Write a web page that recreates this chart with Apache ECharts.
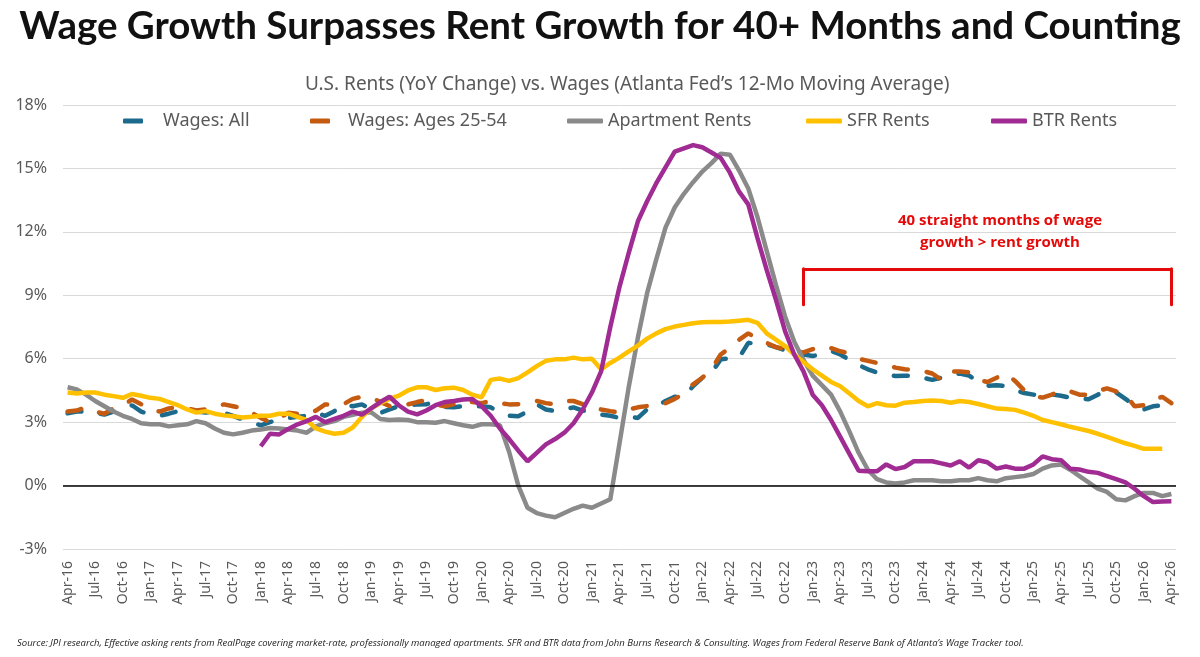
<!DOCTYPE html>
<html>
<head>
<meta charset="utf-8">
<script src="https://cdn.jsdelivr.net/npm/echarts@6/dist/echarts.min.js"></script>
<style>
html,body{margin:0;padding:0;background:#fff;}
#chart{width:1200px;height:657px;}
</style>
</head>
<body>
<div id="chart"></div>
<script>
// ---- categories (monthly, Apr-16 .. Apr-26) ----
const monthNames = ['Jan','Feb','Mar','Apr','May','Jun','Jul','Aug','Sep','Oct','Nov','Dec'];
const categories = [];
for (let k = 0; k < 121; k++) {
  const m = (3 + k) % 12;
  const y = 16 + Math.floor((3 + k) / 12);
  categories.push(monthNames[m] + '-' + y);
}

// ---- series values (% YoY) ----
const wagesAll = [
  3.42, 3.5, 3.5, 3.45, 3.36, 3.5, 3.6, 3.8, 3.5, 3.36,
  3.3, 3.4, 3.52, 3.55, 3.5, 3.45, 3.5, 3.44, 3.3, 3.13,
  3.0, 2.85, 3.0, 3.13, 3.2, 3.25, 3.3, 3.44, 3.3, 3.52,
  3.84, 3.75, 3.84, 3.6, 3.44, 3.6, 3.76, 3.8, 3.84, 3.85,
  3.92, 3.72, 3.7, 3.76, 3.76, 3.75, 3.7, 3.44, 3.3, 3.28,
  3.5, 3.84, 3.6, 3.52, 3.6, 3.7, 3.55, 3.5, 3.36, 3.3,
  3.2, 3.25, 3.2, 3.6, 3.75, 4.0, 4.2, 4.23, 4.7, 5.1,
  5.34, 5.97, 6.02, 6.05, 6.75, 6.7, 6.68, 6.55, 6.4, 6.3,
  6.2, 6.13, 6.2, 6.37, 6.2, 5.95, 5.7, 5.5, 5.35, 5.25,
  5.18, 5.2, 5.2, 5.1, 5.0, 5.1, 5.25, 5.3, 5.2, 4.92,
  4.72, 4.75, 4.7, 4.5, 4.38, 4.3, 4.31, 4.31, 4.25, 4.15,
  4.12, 4.08, 4.3, 4.5, 4.4, 4.1, 3.8, 3.6, 3.75, 3.8,
  3.6
];
const wages2554 = [
  3.5, 3.55, 3.7, 3.5, 3.4, 3.65, 3.8, 4.07, 3.85, 3.6,
  3.5, 3.65, 3.7, 3.65, 3.55, 3.6, 3.75, 3.84, 3.75, 3.65,
  3.45, 3.2, 3.0, 3.2, 3.44, 3.4, 3.36, 3.55, 3.84, 3.84,
  3.85, 4.1, 4.2, 4.17, 3.95, 3.76, 3.8, 3.84, 3.95, 4.05,
  3.84, 3.75, 3.85, 4.0, 3.95, 3.9, 4.0, 3.9, 3.84, 3.85,
  3.92, 4.0, 3.9, 3.85, 4.0, 4.0, 3.85, 3.7, 3.6, 3.52,
  3.45, 3.6, 3.7, 3.76, 3.8, 3.9, 4.1, 4.35, 4.79, 5.1,
  5.5, 6.2, 6.52, 6.9, 7.2, 6.95, 6.75, 6.55, 6.45, 6.35,
  6.3, 6.45, 6.6, 6.5, 6.35, 6.25, 6.0, 5.9, 5.8, 5.7,
  5.58, 5.5, 5.48, 5.42, 5.3, 5.0, 5.4, 5.4, 5.35, 5.0,
  4.9, 5.1, 5.3, 4.95, 4.5, 4.23, 4.16, 4.3, 4.5, 4.45,
  4.3, 4.3, 4.47, 4.6, 4.45, 4.3, 3.75, 3.8, 4.05, 4.2,
  3.9
];
const apartmentRents = [
  4.65, 4.55, 4.3, 4.0, 3.75, 3.5, 3.3, 3.15, 2.95, 2.9,
  2.9, 2.8, 2.85, 2.9, 3.05, 2.95, 2.7, 2.5, 2.42, 2.5,
  2.6, 2.65, 2.72, 2.7, 2.65, 2.6, 2.5, 2.8, 2.95, 3.05,
  3.25, 3.35, 3.45, 3.47, 3.15, 3.1, 3.12, 3.1, 3.0, 3.0,
  2.97, 3.05, 2.95, 2.85, 2.78, 2.9, 2.9, 2.85, 1.6, 0.0,
  -1.05, -1.3, -1.42, -1.5, -1.3, -1.1, -0.95, -1.05, -0.85, -0.65,
  2.0, 4.65, 7.0, 9.1, 10.7, 12.2, 13.15, 13.8, 14.35, 14.85,
  15.25, 15.7, 15.65, 14.9, 14.05, 12.7, 11.1, 9.5, 8.0, 6.8,
  5.95, 5.2, 4.75, 4.3, 3.5, 2.55, 1.55, 0.75, 0.3, 0.15,
  0.1, 0.15, 0.25, 0.25, 0.25, 0.2, 0.2, 0.25, 0.25, 0.35,
  0.25, 0.2, 0.35, 0.4, 0.45, 0.55, 0.8, 0.95, 1.0, 0.75,
  0.45, 0.15, -0.15, -0.3, -0.65, -0.7, -0.5, -0.35, -0.35, -0.5,
  -0.4
];
const sfrRents = [
  4.4, 4.35, 4.4, 4.4, 4.3, 4.23, 4.15, 4.33, 4.25, 4.15,
  4.1, 3.95, 3.8, 3.6, 3.45, 3.52, 3.4, 3.32, 3.28, 3.22,
  3.25, 3.3, 3.3, 3.4, 3.4, 3.25, 3.1, 2.7, 2.55, 2.45,
  2.5, 2.75, 3.25, 3.65, 3.9, 4.1, 4.25, 4.5, 4.65, 4.65,
  4.52, 4.6, 4.63, 4.52, 4.3, 4.17, 5.0, 5.06, 4.95, 5.08,
  5.35, 5.65, 5.9, 5.97, 5.97, 6.05, 5.97, 6.0, 5.5, 5.8,
  6.05, 6.35, 6.62, 6.95, 7.2, 7.4, 7.52, 7.6, 7.68, 7.72,
  7.74, 7.74, 7.76, 7.8, 7.84, 7.7, 7.2, 6.9, 6.6, 6.2,
  5.85, 5.5, 5.2, 4.9, 4.7, 4.35, 4.0, 3.75, 3.9, 3.8,
  3.78, 3.92, 3.95, 4.0, 4.02, 4.0, 3.92, 4.0, 3.95, 3.86,
  3.75, 3.64, 3.62, 3.58, 3.45, 3.3, 3.1, 3.0, 2.9, 2.78,
  2.68, 2.58, 2.45, 2.3, 2.15, 2.0, 1.88, 1.74, 1.74, 1.74,
  null
];
const btrRents = [
  null, null, null, null, null, null, null, null, null, null,
  null, null, null, null, null, null, null, null, null, null,
  null, 1.86, 2.45, 2.42, 2.68, 2.9, 3.05, 3.25, 3.0, 3.15,
  3.3, 3.5, 3.35, 3.65, 3.95, 4.2, 3.8, 3.5, 3.37, 3.55,
  3.8, 3.95, 4.0, 4.07, 4.1, 3.75, 3.3, 2.7, 2.2, 1.65,
  1.15, 1.55, 1.95, 2.2, 2.5, 2.95, 3.6, 4.4, 5.4, 7.5,
  9.4, 11.0, 12.5, 13.45, 14.3, 15.05, 15.8, 15.95, 16.1, 16.0,
  15.75, 15.5, 14.8, 13.9, 13.3, 11.7, 10.2, 8.8, 7.3, 6.2,
  5.4, 4.3, 3.8, 3.1, 2.3, 1.5, 0.7, 0.68, 0.68, 1.0,
  0.78, 0.88, 1.15, 1.15, 1.15, 1.05, 0.95, 1.15, 0.85, 1.2,
  1.1, 0.8, 0.9, 0.8, 0.8, 1.0, 1.38, 1.25, 1.2, 0.8,
  0.76, 0.65, 0.6, 0.45, 0.3, 0.15, -0.15, -0.5, -0.78, -0.75,
  -0.74
];

// ---- axis / annotation settings ----
const yTicks = { min: -3, max: 18, interval: 3 };
const bracket = { fromIndex: 80, toIndex: 120, low: 8.55, high: 10.25 };

const seriesNames = ['Wages: All', 'Wages: Ages 25-54', 'Apartment Rents', 'SFR Rents', 'BTR Rents'];
const colors = ['#1C6A8C', '#C55A11', '#8A8A8A', '#FFC000', '#A02B93'];

const FONT = "'Noto Sans', 'Open Sans', sans-serif";
const GREY_TEXT = '#595959';
const RED = '#E50A0A';

const chart = echarts.init(document.getElementById('chart'), null, { renderer: 'canvas' });

function legendFor(idx, left, iconW, padLeft) {
  return {
    data: [seriesNames[idx]],
    left: left,
    top: 112,
    padding: 0,
    icon: 'roundRect',
    itemWidth: iconW,
    itemHeight: 5,
    itemStyle: { color: colors[idx], borderWidth: 0, borderType: 'solid', opacity: 1 },
    lineStyle: { type: 'solid', width: 0 },
    textStyle: { fontFamily: FONT, fontSize: 18, color: GREY_TEXT, padding: [0, 0, 0, padLeft] },
    selectedMode: false
  };
}

const dashed = { width: 4.5, type: [14, 19], cap: 'round' };

const option = {
  animation: false,
  backgroundColor: '#ffffff',
  title: [
    {
      text: 'Wage Growth Surpasses Rent Growth for 40+ Months and Counting',
      left: 'center', top: 2,
      textStyle: { fontFamily: "'Lato', sans-serif", fontWeight: 'bold', fontSize: 38.5, color: '#111111' }
    },
    {
      text: 'U.S. Rents (YoY Change) vs. Wages (Atlanta Fed\u2019s 12-Mo Moving Average)',
      left: 300, top: 70,
      textStyle: { fontFamily: FONT, fontWeight: 'normal', fontSize: 19, color: GREY_TEXT }
    },
    {
      text: 'Source: JPI research, Effective asking rents from RealPage covering market-rate, professionally managed apartments. SFR and BTR data from John Burns Research & Consulting. Wages from Federal Reserve Bank of Atlanta\u2019s Wage Tracker tool.',
      left: 12, top: 633,
      textStyle: { fontFamily: "'Open Sans', sans-serif", fontStyle: 'italic', fontWeight: 'normal', fontSize: 9.5, color: '#222222' }
    }
  ],
  legend: [
    legendFor(0, 123, 20, 15),
    legendFor(1, 310, 20, 13),
    legendFor(2, 567, 36, 0),
    legendFor(3, 806, 36, 0),
    legendFor(4, 991, 36, 0)
  ],
  grid: { left: 63, right: 24, top: 105, bottom: 108, containLabel: false },
  xAxis: {
    type: 'category',
    data: categories,
    boundaryGap: true,
    axisLine: { show: false },
    axisTick: { show: false },
    splitLine: { show: false },
    axisLabel: {
      interval: 2, rotate: 90, fontSize: 14, color: GREY_TEXT, fontFamily: FONT, margin: 12
    }
  },
  yAxis: {
    type: 'value',
    min: yTicks.min, max: yTicks.max, interval: yTicks.interval,
    axisLine: { show: false },
    axisTick: { show: false },
    splitLine: { lineStyle: { color: '#D9D9D9', width: 1 } },
    axisLabel: { formatter: '{value}%', fontSize: 16, color: GREY_TEXT, fontFamily: FONT, margin: 16 }
  },
  graphic: [
    {
      type: 'text', x: 1000, y: 221, silent: true,
      style: { text: '40 straight months of wage', fill: RED, font: "bold 15px 'Open Sans', sans-serif", textAlign: 'center', textVerticalAlign: 'middle' }
    },
    {
      type: 'text', x: 1000, y: 243, silent: true,
      style: { text: 'growth > rent growth', fill: RED, font: "bold 15px 'Open Sans', sans-serif", textAlign: 'center', textVerticalAlign: 'middle' }
    }
  ],
  series: [
    {
      name: seriesNames[0], type: 'line', data: wagesAll, symbol: 'none', z: 2,
      itemStyle: { color: colors[0] },
      lineStyle: Object.assign({ color: colors[0] }, dashed),
      markLine: {
        silent: true, symbol: 'none', label: { show: false },
        lineStyle: { color: '#000000', width: 1.5, type: 'solid' },
        data: [{ yAxis: 0 }]
      }
    },
    {
      name: seriesNames[1], type: 'line', data: wages2554, symbol: 'none', z: 3,
      itemStyle: { color: colors[1] },
      lineStyle: Object.assign({ color: colors[1] }, dashed)
    },
    {
      name: seriesNames[2], type: 'line', data: apartmentRents, symbol: 'none', z: 4,
      itemStyle: { color: colors[2] },
      lineStyle: { color: colors[2], width: 4.5 }
    },
    {
      name: seriesNames[3], type: 'line', data: sfrRents, symbol: 'none', z: 5,
      itemStyle: { color: colors[3] },
      lineStyle: { color: colors[3], width: 4.5 }
    },
    {
      name: seriesNames[4], type: 'line', data: btrRents, symbol: 'none', z: 6,
      itemStyle: { color: colors[4] },
      lineStyle: { color: colors[4], width: 4.5 },
      markLine: {
        silent: true, symbol: 'none', label: { show: false },
        lineStyle: { color: RED, width: 3, type: 'solid', cap: 'round' },
        data: [
          [{ coord: [bracket.fromIndex, bracket.low] }, { coord: [bracket.fromIndex, bracket.high] }],
          [{ coord: [bracket.fromIndex, bracket.high] }, { coord: [bracket.toIndex, bracket.high] }],
          [{ coord: [bracket.toIndex, bracket.high] }, { coord: [bracket.toIndex, bracket.low] }]
        ]
      }
    }
  ]
};

chart.setOption(option);
</script>
</body>
</html>
